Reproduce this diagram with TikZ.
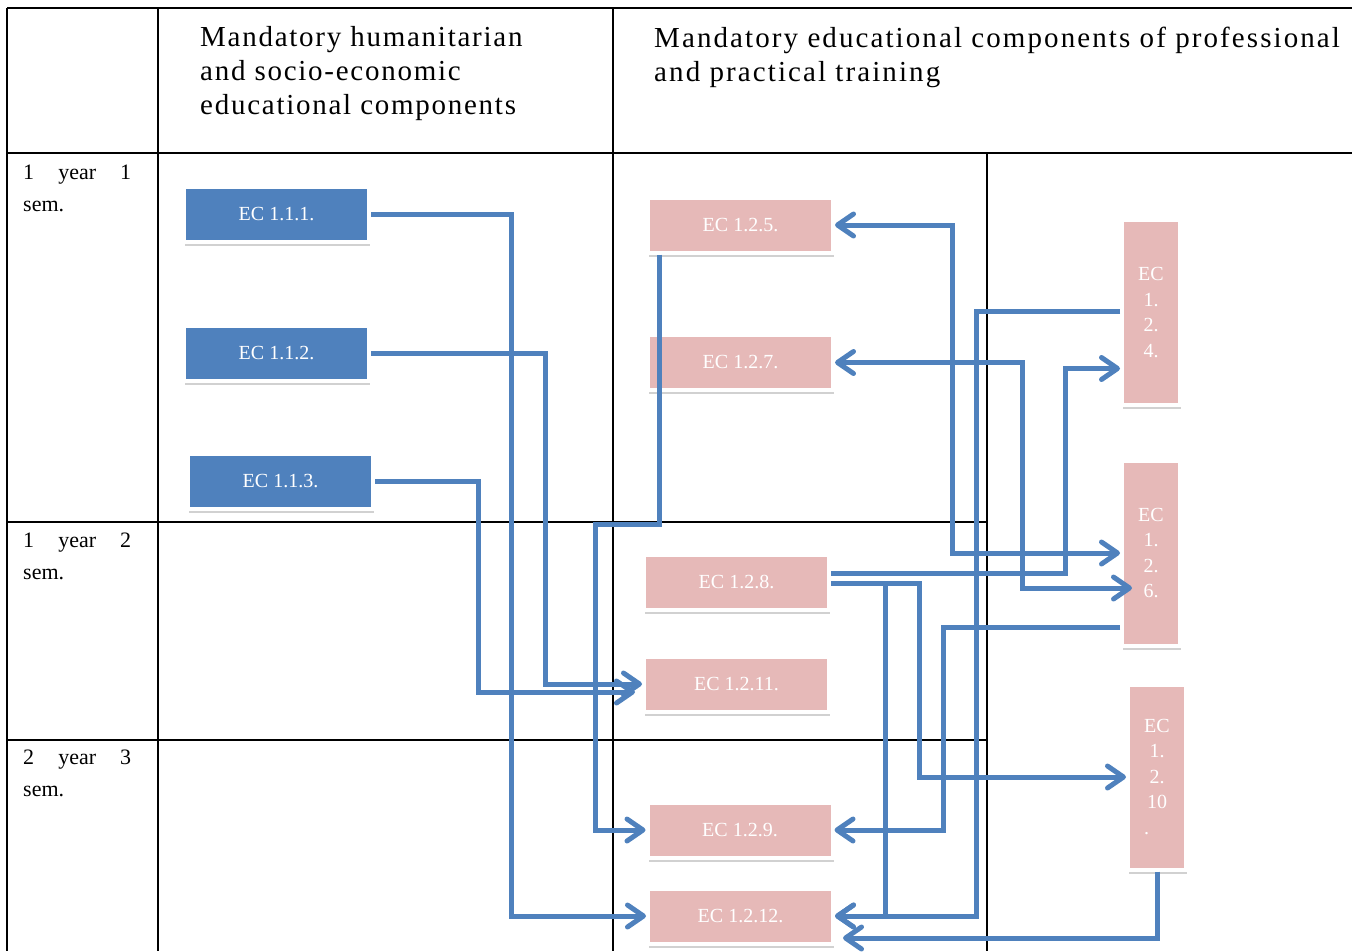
\documentclass[tikz,border=0pt]{standalone}
\usepackage{fontspec}
\setmainfont{Liberation Serif}
\newfontfamily\headfont[LetterSpace=6]{Liberation Serif}
\newfontfamily\headwide[LetterSpace=7.2]{Liberation Serif}
\usetikzlibrary{arrows.meta,shadows}
\definecolor{ecblue}{RGB}{79,129,189}
\definecolor{ecpink}{RGB}{230,185,184}

\begin{document}
\begin{tikzpicture}[
    x=1pt,y=-1pt,
    >={Straight Barb[length=16pt,width=22pt,round]},
    ecbox/.style={draw=white,line width=4pt,fill=ecpink,text=white,inner sep=0pt,
      font=\fontsize{20}{25.5}\selectfont,
      drop shadow={shadow xshift=1pt,shadow yshift=-4pt,opacity=0.18,fill=black}},
    ecwide/.style={ecbox,minimum width=185pt,minimum height=55pt},
    ectall/.style={ecbox,minimum width=58pt,minimum height=185pt,align=center},
    head/.style={anchor=north west,inner sep=0pt,align=left,
      font=\headfont\fontsize{29}{34}\selectfont},
    rowlab/.style={anchor=north west,inner sep=0pt,align=left,
      font=\fontsize{22}{32}\selectfont},
    link/.style={ecblue,line width=5pt}
    ]
    \useasboundingbox (0,0) rectangle (1352,951);
    \draw[line width=1.2pt] (7,8) -- (1352,8);
    \draw[line width=1.2pt] (7,153) -- (1352,153);
    \foreach \x in {7,158,613}
      \draw[line width=1.2pt] (\x,8) -- (\x,951);
    \draw[line width=1.2pt] (987,153) -- (987,951);
    \foreach \y in {522,740}
      \draw[line width=1.2pt] (7,\y) -- (987,\y);
    \node[head] (hleft) at (200,26) {Mandatory humanitarian\\and socio-economic\\educational components};
    \node[head,font=\headwide\fontsize{29}{34}\selectfont] (hright) at (654,27) {Mandatory educational components of professional\\and practical training};
    \node[rowlab] (r1) at (23,165) {\makebox[108pt][s]{1 year 1}\\sem.};
    \node[rowlab] (r2) at (23,533) {\makebox[108pt][s]{1 year 2}\\sem.};
    \node[rowlab] (r3) at (23,750) {\makebox[108pt][s]{2 year 3}\\sem.};
    \node[ecwide,fill=ecblue] (b111) at (276.5,214.5) {EC 1.1.1.};
    \node[ecwide,fill=ecblue] (b112) at (276.5,353.5) {EC 1.1.2.};
    \node[ecwide,fill=ecblue] (b113) at (280.5,481.5) {EC 1.1.3.};
    \node[ecwide] (p125) at (740.5,225) {EC 1.2.5.};
    \node[ecwide] (p127) at (740.5,362.5) {EC 1.2.7.};
    \node[ecwide] (p128) at (736.5,582) {EC 1.2.8.};
    \node[ecwide] (p1211) at (736.5,684) {EC 1.2.11.};
    \node[ecwide] (p129) at (740,830) {EC 1.2.9.};
    \node[ecwide] (p1212) at (740.5,916) {EC 1.2.12.};
    \node[ectall] (p124) at (1151,312.5) {EC\\1.\\2.\\4.};
    \node[ectall] (p126) at (1151,553) {EC\\1.\\2.\\6.};
    \node[ectall] (p1210) at (1157,777) {EC\\1.\\2.\\10\\\rlap{.}\phantom{EC}};
    \draw[link,->] (b111.east) -- ++(140,0) |- (p1212.west);
    \draw[link,->] (b112.east) -- ++(174,0) |- (p1211.west);
    \draw[link,->] (b113.east) -- ++(103,0) |- ([xshift=-7pt,yshift=-8pt]p1211.west);
    \draw[link,->] ([xshift=13pt]p125.south west) -- ++(0,270) -- ++(-64,0) |- (p129.west);
    \draw[link,<->] (p125.east) -- ++(117,0) |- (p126.west);
    \draw[link,<->] (p127.east) -- ++(187,0) |- ([xshift=12pt,yshift=-35pt]p126.west);
    \draw[link,->] ([yshift=1pt]p124.west) -- ++(-144,0) |- (p1212.east);
    \draw[link,->] ([yshift=9pt]p128.east) -- ++(234,0) |- ([yshift=-56pt]p124.west);
    \draw[link,->] ([yshift=-1pt]p128.east) -- ++(88,0) |- (p1210.west);
    \draw[link,->] ([yshift=-1pt]p128.east) -- ++(54,0) |- (p1212.east);
    \draw[link,->] ([yshift=-74pt]p126.west) -- ++(-177,0) |- (p129.east);
    \draw[link,->,shorten >=8pt] (p1210.south) |- ([yshift=-22pt]p1212.east);
  \end{tikzpicture}
\end{document}
